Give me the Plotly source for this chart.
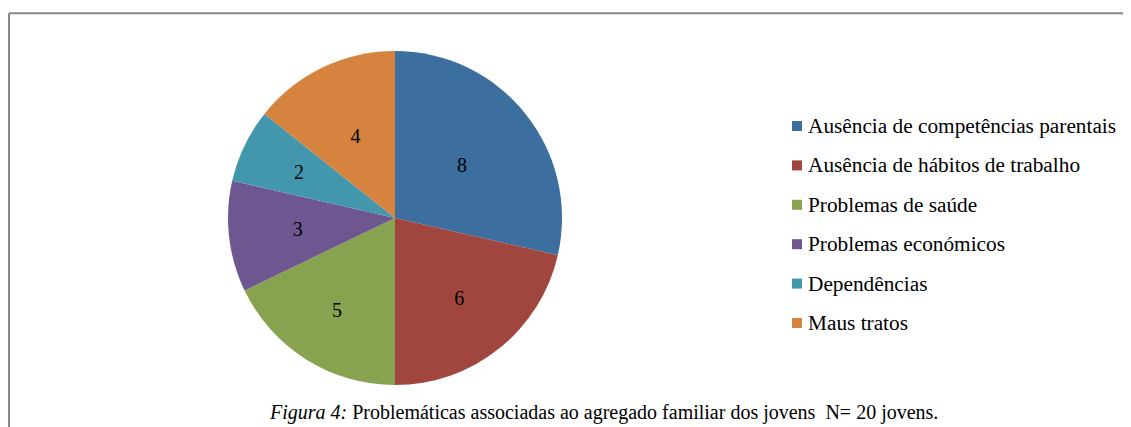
import plotly.graph_objects as go

# page has an 8px body margin, so the figure is 8px smaller than the window
OFF = 8
W, H = 1131 - OFF, 427 - OFF

# data
labels = [
    "Ausência de competências parentais",
    "Ausência de hábitos de trabalho",
    "Problemas de saúde",
    "Problemas económicos",
    "Dependências",
    "Maus tratos",
]
values = [8, 6, 5, 3, 2, 4]
colors = ["#3C6E9F", "#A1463F", "#87A34F", "#6E5691", "#4297AD", "#D6833F"]

caption = "<i>Figura 4:</i> Problemáticas associadas ao agregado familiar dos jovens&nbsp; N= 20 jovens."

FONT = "Liberation Serif, Times New Roman, serif"

# size of the invisible ring each slice's label is placed in (fraction of the pie radius)
label_ring = [0.84, 1.0, 1.0, 0.78, 0.78, 0.78]


def px(x):
    return (x - OFF) / W


def py(y):
    return 1 - (y - OFF) / H


def domain(cx, cy, r):
    return dict(x=[px(cx - r), px(cx + r)], y=[py(cy + r), py(cy - r)])


# pie centred at (395, 218), radius ~167 (window pixels)
cx, cy, r = 395, 218, 167

fig = go.Figure()
fig.add_trace(go.Pie(
    labels=labels,
    values=values,
    sort=False,
    direction="clockwise",
    rotation=0,
    marker=dict(colors=colors, line=dict(width=0)),
    textinfo="none",
    domain=domain(cx, cy, r),
    showlegend=False,
    hoverinfo="label+value",
))

# transparent overlays only carry the value labels
for scale in sorted(set(label_ring)):
    fig.add_trace(go.Pie(
        labels=labels,
        values=values,
        sort=False,
        direction="clockwise",
        rotation=0,
        hole=0.22,
        marker=dict(colors=["rgba(0,0,0,0)"] * len(values), line=dict(width=0)),
        text=[str(v) if s == scale else "" for v, s in zip(values, label_ring)],
        textinfo="text",
        textposition="inside",
        insidetextorientation="horizontal",
        textfont=dict(family=FONT, size=20, color="black"),
        domain=domain(cx, cy, r * scale),
        showlegend=False,
        hoverinfo="skip",
    ))

# hand-drawn legend so the row spacing matches the original
shapes = []
annotations = []
y0, step = 126, 39.4
for i, (lab, col) in enumerate(zip(labels, colors)):
    y = y0 + i * step
    shapes.append(dict(type="rect", xref="paper", yref="paper",
                       x0=px(792), x1=px(802), y0=py(y + 5), y1=py(y - 5),
                       fillcolor=col, line=dict(width=0)))
    annotations.append(dict(x=px(806), y=py(y), xref="paper", yref="paper",
                            text=lab, showarrow=False, xanchor="left", yanchor="middle",
                            font=dict(family=FONT, size=21.3, color="black")))

annotations.append(dict(x=px(603), y=py(412), xref="paper", yref="paper",
                        text=caption, showarrow=False, xanchor="center", yanchor="middle",
                        font=dict(family=FONT, size=20, color="black")))

# frame (top and left edges visible in the crop)
shapes.append(dict(type="line", xref="paper", yref="paper",
                   x0=px(9), x1=1, y0=py(13.3), y1=py(13.3), line=dict(color="#888888", width=2)))
shapes.append(dict(type="line", xref="paper", yref="paper",
                   x0=px(9), x1=px(9), y0=py(13.3), y1=0, line=dict(color="#888888", width=2)))

fig.update_layout(
    width=W, height=H,
    margin=dict(l=0, r=0, t=0, b=0),
    paper_bgcolor="white",
    plot_bgcolor="white",
    shapes=shapes,
    annotations=annotations,
)

fig.write_html("out.html")
